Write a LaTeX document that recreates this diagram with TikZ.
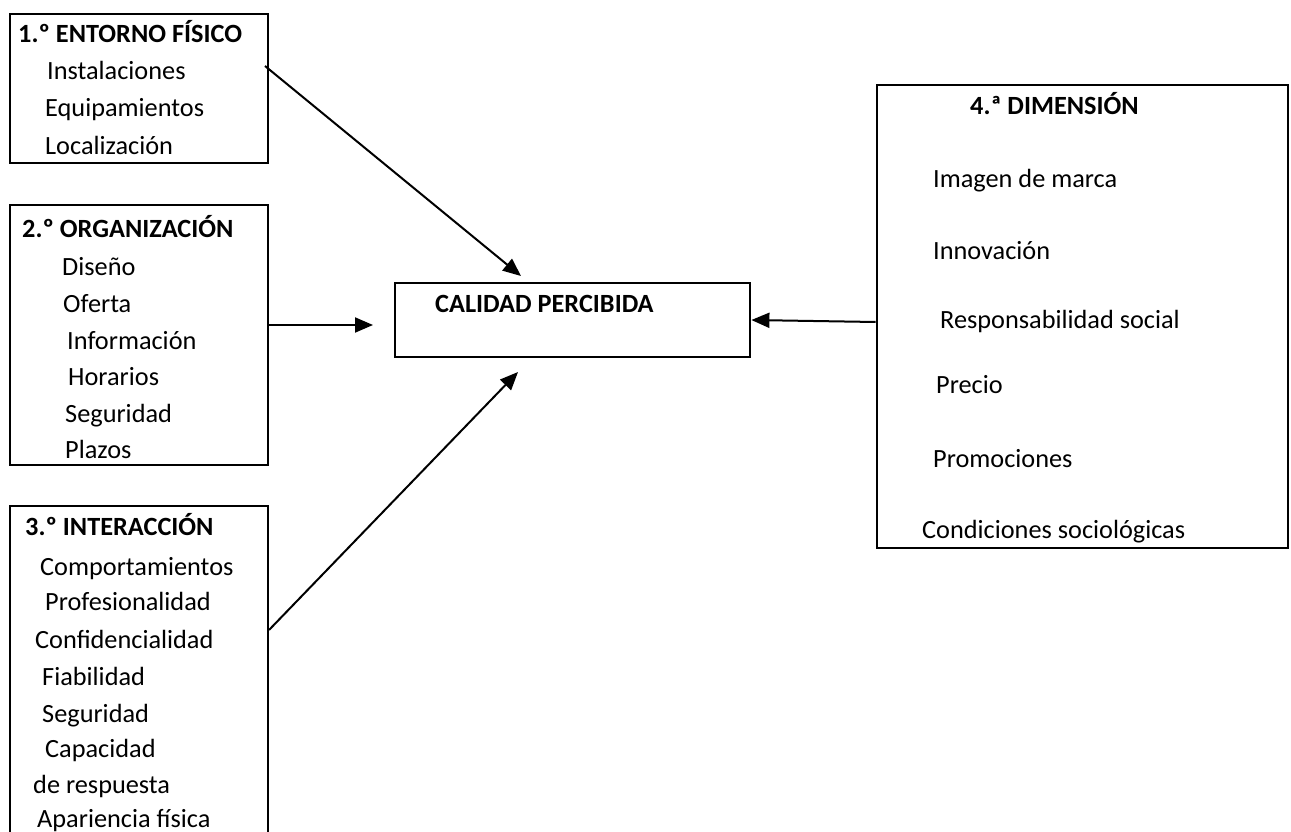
\documentclass[tikz,border=0pt]{standalone}
\usepackage{fontspec}
\setmainfont{Carlito}
\usetikzlibrary{arrows.meta}
\begin{document}
\begin{tikzpicture}[x=1pt,y=-1pt,
  frame/.style={draw,line width=2.8pt,rectangle,inner sep=0pt},
  lbl/.style={anchor=base west,inner sep=0pt,font=\fontsize{26.3}{30}\selectfont},
  ttl/.style={lbl,font=\fontsize{26.3}{30}\selectfont\bfseries},
  link/.style={line width=2pt,-{Triangle[length=18pt,width=15pt]}}]
\useasboundingbox (0,0) rectangle (1291,832);

% frames
\node[frame,minimum width=258pt,minimum height=149pt] (env) at (139,88.5) {};
\node[frame,minimum width=258pt,minimum height=260pt] (org) at (139,335) {};
\node[frame,minimum width=258pt,minimum height=344pt] (inter) at (139,678) {};
\node[frame,minimum width=355pt,minimum height=74pt] (cal) at (572.5,320) {};
\node[frame,minimum width=411pt,minimum height=463pt] (dim) at (1082.5,316.5) {};

% 1st dimension
\node[ttl] (t1) at (18,43) {1.º ENTORNO FÍSICO};
\node[lbl] (e1) at (47,80) {Instalaciones};
\node[lbl] (e2) at (45,117) {Equipamientos};
\node[lbl] (e3) at (45,155) {Localización};

% 2nd dimension
\node[ttl] (t2) at (22,237) {2.º ORGANIZACIÓN};
\node[lbl] (o1) at (62,275) {Diseño};
\node[lbl] (o2) at (63,312) {Oferta};
\node[lbl] (o3) at (67,349) {Información};
\node[lbl] (o4) at (68,385) {Horarios};
\node[lbl] (o5) at (65,422) {Seguridad};
\node[lbl] (o6) at (65,458) {Plazos};

% 3rd dimension
\node[ttl] (t3) at (25,535) {3.º INTERACCIÓN};
\node[lbl] (i1) at (40,575) {Comportamientos};
\node[lbl] (i2) at (45,610) {Profesionalidad};
\node[lbl] (i3) at (35,648) {Confidencialidad};
\node[lbl] (i4) at (42,685) {Fiabilidad};
\node[lbl] (i5) at (42,722) {Seguridad};
\node[lbl] (i6) at (45,757) {Capacidad};
\node[lbl] (i7) at (33,793) {de respuesta};
\node[lbl] (i8) at (37,827) {Apariencia física};

% result
\node[ttl] (tc) at (435,312) {CALIDAD PERCIBIDA};

% 4th dimension
\node[ttl] (t4) at (970,115) {4.ª DIMENSIÓN};
\node[lbl] (d1) at (933,187) {Imagen de marca};
\node[lbl] (d2) at (933,259) {Innovación};
\node[lbl] (d3) at (940,328) {Responsabilidad social};
\node[lbl] (d4) at (936,393) {Precio};
\node[lbl] (d5) at (933,467) {Promociones};
\node[lbl] (d6) at (922,538) {Condiciones sociológicas};

% connector ends
\coordinate (a1s) at (265,66);
\coordinate (a1e) at (521,276);
\coordinate (a2s) at (268,325);
\coordinate (a2e) at (373,325);
\coordinate (a3s) at (269,630);
\coordinate (a3e) at (518,372);
\coordinate (a4s) at (dim.west |- 0,322);

\draw[link] (a1s) -- (a1e);
\draw[link] (a2s) -- (a2e);
\draw[link] (a3s) -- (a3e);
\draw[link] (a4s) -- (cal.east |- 0,320);
\end{tikzpicture}
\end{document}
